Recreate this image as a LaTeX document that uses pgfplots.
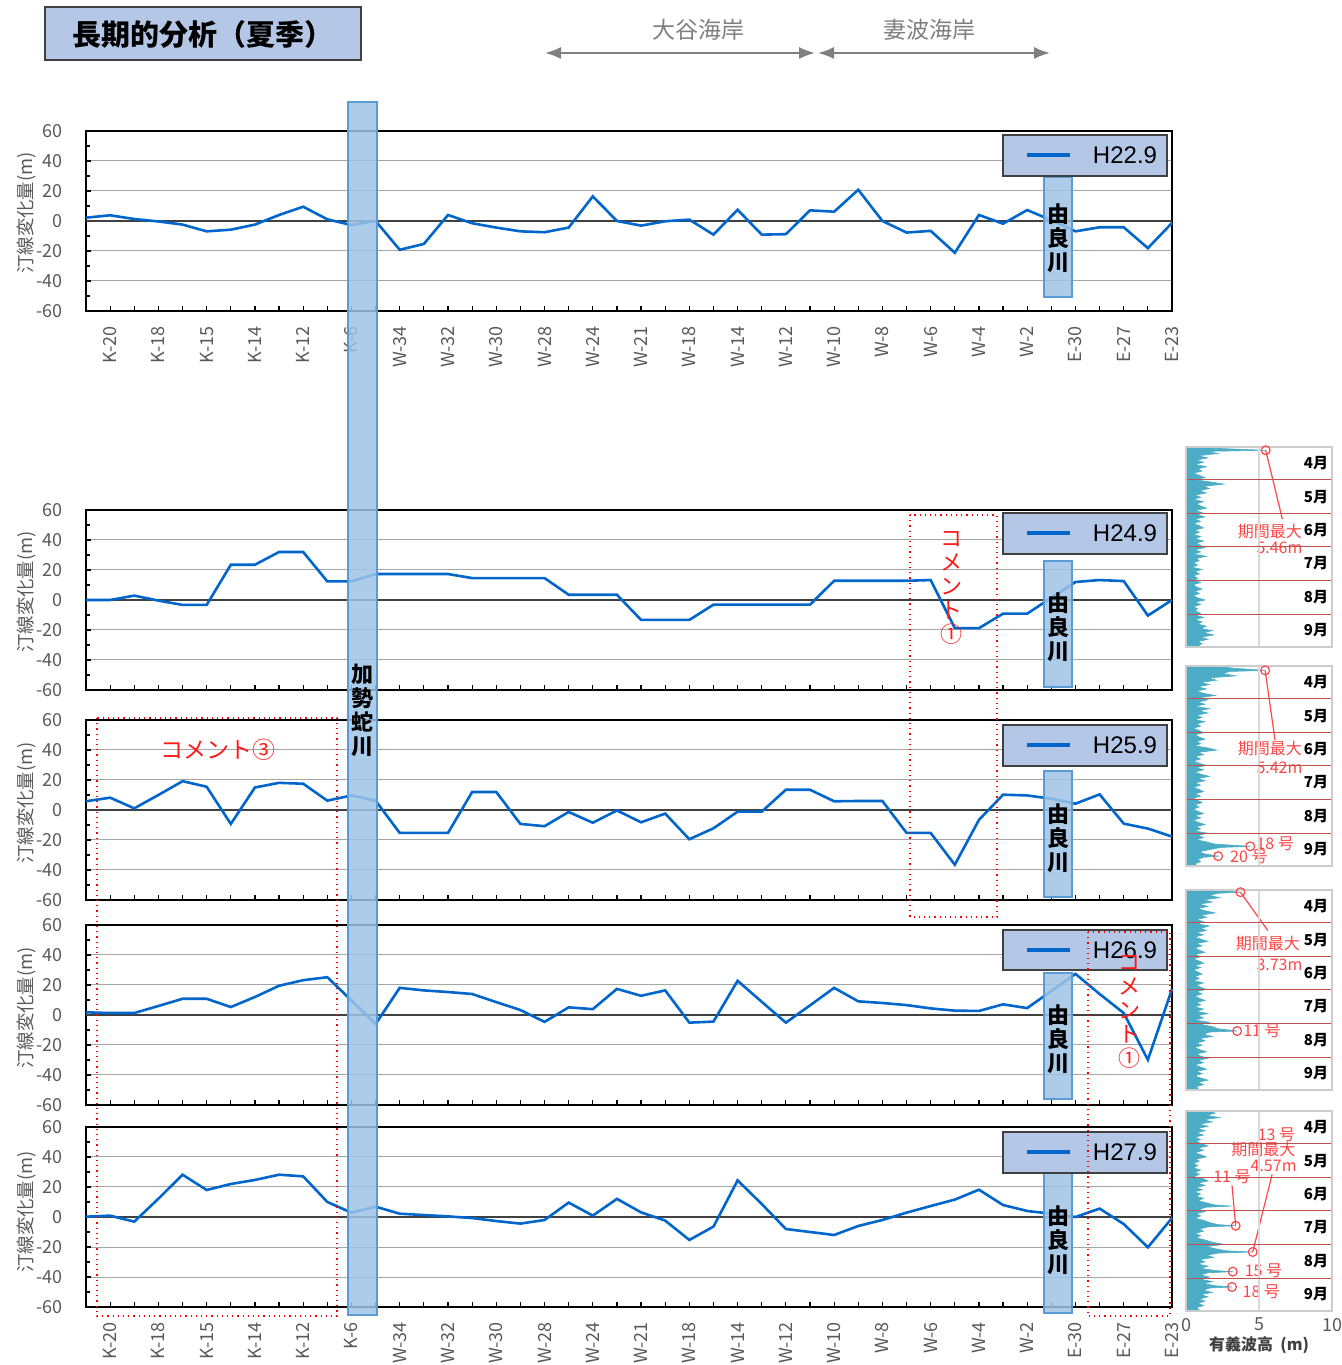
\documentclass[border=0pt]{standalone}
\usepackage{fontspec}
\setmainfont{Noto Sans CJK JP}
\newfontfamily\arialf{Liberation Sans}
\usepackage{pgfplots}
\pgfplotsset{compat=1.18}
\usepackage{pgfplotstable}
\usetikzlibrary{arrows.meta}

\definecolor{lineblue}{RGB}{0,102,204}
\definecolor{bandfill}{RGB}{157,195,230}
\definecolor{banddraw}{RGB}{91,155,213}
\definecolor{legfill}{RGB}{180,199,231}
\definecolor{tickgray}{RGB}{89,89,89}
\definecolor{gridgray}{RGB}{166,166,166}
\definecolor{wavecyan}{RGB}{75,172,198}
\definecolor{monthred}{RGB}{192,80,77}
\definecolor{annred}{RGB}{255,70,70}
\definecolor{hdrgray}{RGB}{127,127,127}

\pgfplotstableread{
i h22 h24 h25 h26 h27
0 2.2 0 5.8 1.8 0.2
1 3.8 0 8.2 1.3 0.9
2 1.3 2.9 1.1 1.3 -3.1
3 -0.3 -0.4 10 6 12.2
4 -2.4 -3.3 19.2 10.8 28.2
5 -6.9 -3.3 15.5 10.8 18
6 -5.8 23.5 -9.3 5.3 22
7 -2.4 23.5 15 12 24.7
8 4.0 32 18.1 19.5 28.2
9 9.5 32 17.5 23.2 27.1
10 1.1 12.4 6.2 25.2 10
11 -2.7 12.4 9.7 9.7 2.9
12 0 17.3 6.2 -6 6.9
13 -19.2 17.3 -15.3 18.1 2.2
14 -15.3 17.3 -15.3 16.4 1.3
15 4.0 17.3 -15.3 15.3 0.4
16 -1.5 14.6 12 14 -0.7
17 -4.4 14.6 12 8.6 -2.7
18 -6.9 14.6 -9.3 3.3 -4.4
19 -7.5 14.6 -10.8 -4.6 -2
20 -4.4 3.5 -1.3 5.1 9.6
21 16.4 3.5 -8.5 3.9 0.9
22 0 3.5 -0.3 17.4 12.1
23 -3.1 -13.3 -8.2 12.8 3.1
24 -0.2 -13.3 -2.4 16.4 -2.4
25 0.9 -13.3 -19.5 -5.1 -15.3
26 -9.1 -3.1 -12.2 -4.4 -6.4
27 7.5 -3.1 -1.1 22.8 24.4
28 -9.1 -3.1 -1.1 8.8 8.7
29 -8.8 -3.1 13.5 -5.1 -8
30 7.1 -3.1 13.5 6.4 -10
31 6.2 12.8 5.8 18.1 -12
32 20.8 12.8 6 9.1 -6
33 0 12.8 6 8 -2
34 -7.7 12.8 -15.3 6.6 2.9
35 -6.6 13.3 -15.3 4.4 7.3
36 -21.2 -18.8 -36.5 2.9 11.6
37 4.0 -18.8 -6.6 2.7 18.2
38 -1.8 -9.1 10.2 7.1 8
39 7.3 -9.1 9.7 4.6 4
40 0.5 1.5 7.5 16 2.2
41 -6.9 12 4.2 27.4 0
42 -4.2 13.3 10.4 14 5.6
43 -4.2 12.6 -9.1 1.3 -4.7
44 -18.1 -10.4 -12.4 -29.9 -20.2
45 -1.3 0 -17.7 17.3 -0.7
}\shore

\pgfplotstableread{
d v
0 0
0 1.0
1 1.6
3 5.46
4 1.4
6 2.2
8 0.8
10 1.5
12 0.7
14 1.2
16 0.6
18 1.4
20 0.8
22 1.1
24 0.5
26 0.9
28 1.3
30 0.6
32 1.7
34 2.6
36 1.2
38 1.6
40 0.9
42 1.4
44 0.6
46 1.0
48 0.5
50 1.2
52 0.7
54 1.0
56 1.4
58 0.6
60 1.1
62 0.8
64 1.3
66 0.6
68 1.0
70 0.5
72 0.9
74 1.2
76 0.6
78 0.9
80 0.5
82 1.0
84 0.6
86 1.2
88 0.7
90 1.0
92 1.3
94 0.6
96 1.0
98 0.5
100 1.4
102 0.7
104 0.9
106 0.5
108 0.8
110 0.4
112 1.1
114 0.6
116 0.9
118 0.5
120 0.8
122 0.6
124 1.0
126 0.5
128 0.7
130 1.1
132 0.6
134 0.9
136 0.5
138 0.8
140 1.3
142 0.6
144 1.0
146 0.5
148 0.8
150 0.6
152 1.0
154 0.7
156 1.2
158 0.6
160 1.1
162 0.8
164 1.4
166 1.0
168 1.8
170 1.2
172 1.9
174 1.0
176 1.5
178 0.8
180 1.1
183 0.7
183 0
}\waveA

\pgfplotstableread{
d v
0 0
0 2.2
2 3.2
4 5.42
5 3.0
7 2.5
9 3.4
11 1.5
13 2.1
15 1.0
17 1.6
19 0.8
21 1.4
23 0.7
25 1.2
27 2.0
29 0.9
31 1.5
33 0.8
35 1.3
37 0.6
39 1.6
41 0.9
43 1.5
45 0.7
47 1.1
49 0.6
51 1.3
53 0.7
55 1.0
57 0.5
59 0.9
61 1.2
63 0.6
65 0.9
67 1.3
69 0.7
71 1.0
73 0.6
75 1.5
77 2.1
79 0.8
81 1.2
83 0.6
85 1.0
87 0.5
89 0.9
91 1.4
93 0.7
95 1.2
97 0.6
99 1.0
101 1.6
103 0.8
105 1.3
107 0.6
109 1.0
111 0.5
113 0.9
115 1.2
117 0.6
119 1.0
121 0.5
123 0.8
125 1.1
127 0.6
129 0.9
131 0.5
133 0.8
135 1.2
137 0.6
139 1.0
141 0.5
143 0.8
145 1.3
147 0.7
149 1.0
151 0.6
153 1.5
155 0.8
157 1.2
159 0.7
161 1.4
163 2.0
165 4.4
166 2.4
168 1.6
170 0.9
172 1.3
174 2.2
175 1.2
177 0.8
179 1.0
181 0.6
183 0.8
183 0
}\waveB

\pgfplotstableread{
d v
0 0
0 1.8
2 3.73
3 2.2
5 1.6
7 2.3
9 1.2
11 1.8
13 0.9
15 1.5
17 0.8
19 1.3
21 2.0
23 1.0
25 1.4
27 0.7
29 1.2
31 0.8
33 1.6
35 1.0
37 1.4
39 0.7
41 1.2
43 0.6
45 1.0
47 1.5
49 0.7
51 1.1
53 0.6
55 0.9
57 1.3
59 0.6
61 1.0
63 0.5
65 0.9
67 1.2
69 0.6
71 1.0
73 0.5
75 0.8
77 1.1
79 0.6
81 0.9
83 0.5
85 1.2
87 0.7
89 1.0
91 1.4
93 0.7
95 1.1
97 0.6
99 0.9
101 1.3
103 0.7
105 1.0
107 0.6
109 1.2
111 0.7
113 1.5
115 0.8
117 1.2
119 0.6
121 1.6
123 1.0
125 1.8
127 2.2
129 3.5
130 1.6
132 1.2
134 1.8
136 0.9
138 1.3
140 0.7
142 1.1
144 0.6
146 0.9
148 1.4
150 0.7
152 1.0
154 1.5
156 0.8
158 1.2
160 0.6
162 1.0
164 1.4
166 0.7
168 1.1
170 0.6
172 1.0
174 1.5
176 0.8
178 1.2
180 0.7
183 0.9
183 0
}\waveC

\pgfplotstableread{
d v
0 0
0 1.6
2 2.0
4 1.4
6 2.3
8 1.2
10 1.8
12 0.9
14 1.5
16 0.8
18 1.3
20 0.7
22 1.2
24 0.6
26 1.0
28 0.7
30 1.1
32 1.5
34 0.8
36 1.2
38 0.6
40 1.0
42 1.4
44 0.7
46 0.9
48 0.5
50 0.8
52 0.5
54 1.0
56 0.6
58 0.9
60 0.5
62 1.2
64 1.5
66 0.8
68 1.3
70 0.7
72 1.1
74 0.6
76 1.0
78 0.7
80 1.2
82 0.8
84 1.4
86 2.0
87 3.1
88 1.4
90 0.9
92 1.3
94 0.7
96 1.0
98 0.6
100 1.2
102 1.6
104 2.2
105 3.4
106 1.5
108 0.9
110 1.2
112 0.6
114 1.0
116 0.7
118 1.3
120 1.8
122 2.6
124 1.4
126 2.0
128 2.8
129 4.57
130 2.2
132 1.4
134 1.9
136 0.9
138 1.3
140 0.8
142 1.5
144 1.0
146 2.0
147 3.2
148 1.5
150 1.0
152 1.6
154 1.0
156 1.8
158 1.2
160 2.1
161 3.15
162 1.6
164 1.2
166 1.8
168 1.0
170 1.5
172 0.9
174 1.3
176 0.8
178 1.2
180 0.7
183 1.0
183 0
}\waveD

\pgfplotsset{
  panel/.style={
    scale only axis, width=543pt, height=90pt,
    at={(43pt,{682.5pt-#1*0.5pt})}, anchor=south west,
    xmin=0, xmax=45, ymin=-60, ymax=60,
    xtick={0,...,45}, xticklabels={},
    ytick={-60,-40,...,60}, minor ytick={-50,-30,...,50},
    tick align=inside, xtick pos=bottom, ytick pos=left,
    major tick length=2.5pt, minor tick length=2pt,
    tick style={black, line width=0.6pt},
    ymajorgrids, grid style={gridgray, line width=0.5pt},
    axis line style={black, line width=0.8pt},
    yticklabel style={font=\fontsize{9}{10}\selectfont, text=tickgray, xshift=-8pt},
    xticklabel style={font=\fontsize{9}{10}\selectfont, text=tickgray, rotate=90, anchor=east},
    xticklabel shift=4pt,
    /pgf/number format/assume math mode=true,
    clip=false,
  },
  xlabs/.style={xticklabels={,K-20,,K-18,,K-15,,K-14,,K-12,,K-6,,W-34,,W-32,,W-30,,W-28,,W-24,,W-21,,W-18,,W-14,,W-12,,W-10,,W-8,,W-6,,W-4,,W-2,,E-30,,E-27,,E-23}},
  series/.style={lineblue, line width=1.3pt},
  wave/.style={
    scale only axis, width=73pt, height=100pt,
    at={(593pt,{682.5pt-#1*0.5pt})}, anchor=south west,
    xmin=0, xmax=10, ymin=-183, ymax=0,
    xtick={5}, xticklabels={}, xmajorgrids,
    ytick={-183,-153,-122,-91,-61,-30}, yticklabels={}, ymajorgrids,
    major tick length=0pt,
    x grid style={gray!30, line width=0.6pt},
    y grid style={monthred, line width=0.6pt},
    axis line style={gray!40, line width=0.6pt},
    axis on top, clip=false,
  },
  wavefill/.style={draw=wavecyan, fill=wavecyan, line width=0.3pt},
  anncirc/.style={only marks, mark=o, mark size=2.2pt, annred, mark options={line width=0.6pt}},
}

\tikzset{
  mon/.style={font=\bfseries\fontsize{7.5}{8}\selectfont},
  ann/.style={text=annred, font=\fontsize{8}{9}\selectfont, inner sep=0pt},
  yl/.style={rotate=90, text=tickgray, font=\fontsize{9.2}{10}\selectfont},
  leg/.style={fill=legfill, draw=black!75, line width=0.8pt},
  band/.style={fill=bandfill, fill opacity=0.85, draw=banddraw, line width=0.6pt},
  bandtxt/.style={font=\bfseries\fontsize{11}{12}\selectfont, align=center, inner sep=0pt},
  redbox/.style={red, dotted, line width=0.6pt},
  redtxt/.style={text=red!90, font=\fontsize{11}{12}\selectfont, align=center, inner sep=0pt},
}
\newcommand\months{%
  \node[mon] at (axis cs:8.9,-15) {4月};
  \node[mon] at (axis cs:8.9,-45.5) {5月};
  \node[mon] at (axis cs:8.9,-76) {6月};
  \node[mon] at (axis cs:8.9,-106.5) {7月};
  \node[mon] at (axis cs:8.9,-137.5) {8月};
  \node[mon] at (axis cs:8.9,-168) {9月};
}

\begin{document}
\begin{tikzpicture}
\useasboundingbox (0,0) rectangle (670.5pt,682.5pt);

% ---------- panels ----------
\begin{axis}[panel=311, xlabs]
  \addplot[black!75, line width=1pt, forget plot] coordinates {(0,0) (45,0)};
  \addplot[series] table[x=i, y=h22] {\shore};
\end{axis}
\begin{axis}[panel=690]
  \addplot[black!75, line width=1pt, forget plot] coordinates {(0,0) (45,0)};
  \addplot[series] table[x=i, y=h24] {\shore};
\end{axis}
\begin{axis}[panel=900]
  \addplot[black!75, line width=1pt, forget plot] coordinates {(0,0) (45,0)};
  \addplot[series] table[x=i, y=h25] {\shore};
\end{axis}
\begin{axis}[panel=1105]
  \addplot[black!75, line width=1pt, forget plot] coordinates {(0,0) (45,0)};
  \addplot[series] table[x=i, y=h26] {\shore};
\end{axis}
\begin{axis}[panel=1307, xlabs]
  \addplot[black!75, line width=1pt, forget plot] coordinates {(0,0) (45,0)};
  \addplot[series] table[x=i, y=h27] {\shore};
\end{axis}

% ---------- wave height panels ----------
\begin{axis}[wave=647]
  \addplot[wavefill] table[x=v, y expr=-\thisrow{d}] {\waveA};
  \addplot[anncirc] coordinates {(5.46,-3)};
  \draw[annred, line width=0.6pt] (axis cs:5.46,-3) -- (axis cs:6.6,-66);
  \node[ann] at (axis cs:5.75,-77) {期間最大};
  \node[ann] at (axis cs:6.4,-92) {5.46m};
  \months
\end{axis}
\begin{axis}[wave=866]
  \addplot[wavefill] table[x=v, y expr=-\thisrow{d}] {\waveB};
  \addplot[anncirc] coordinates {(5.42,-4) (4.4,-165) (2.2,-174)};
  \draw[annred, line width=0.6pt] (axis cs:5.42,-4) -- (axis cs:6.1,-68);
  \node[ann] at (axis cs:5.75,-75) {期間最大};
  \node[ann] at (axis cs:6.4,-93) {5.42m};
  \node[ann, anchor=west] at (axis cs:4.8,-163) {18 号};
  \node[ann, anchor=west] at (axis cs:3.0,-175) {20 号};
  \months
\end{axis}
\begin{axis}[wave=1090]
  \addplot[wavefill] table[x=v, y expr=-\thisrow{d}] {\waveC};
  \addplot[anncirc] coordinates {(3.73,-2) (3.5,-129)};
  \draw[annred, line width=0.6pt] (axis cs:3.73,-2) -- (axis cs:5.6,-37);
  \node[ann] at (axis cs:5.6,-49) {期間最大};
  \node[ann] at (axis cs:6.4,-68) {3.73m};
  \node[ann, anchor=west] at (axis cs:3.9,-129) {11 号};
  \months
\end{axis}
\begin{axis}[wave=1311, xtick={0,5,10}, xticklabels={0,5,10},
    xticklabel style={font=\fontsize{9}{10}\selectfont, text=tickgray},
    xlabel={有義波高\ \ (m)},
    xlabel style={font=\bfseries\fontsize{8}{9}\selectfont, text=black!75, yshift=4pt}]
  \addplot[wavefill] table[x=v, y expr=-\thisrow{d}] {\waveD};
  \addplot[anncirc] coordinates {(3.4,-105) (4.57,-129) (3.2,-147) (3.15,-161)};
  \draw[annred, line width=0.6pt] (axis cs:3.15,-68) -- (axis cs:3.4,-105);
  \draw[annred, line width=0.6pt] (axis cs:5.9,-58) -- (axis cs:4.57,-129);
  \node[ann] at (axis cs:6.2,-22) {13 号};
  \node[ann] at (axis cs:5.3,-35) {期間最大};
  \node[ann] at (axis cs:6.0,-50) {4.57m};
  \node[ann] at (axis cs:3.15,-60) {11 号};
  \node[ann, anchor=west] at (axis cs:4.0,-146) {15 号};
  \node[ann, anchor=west] at (axis cs:3.85,-165) {18 号};
  \months
\end{axis}

\begin{scope}[x=0.5pt, y=-0.5pt, yshift=682.5pt]
% y labels
\foreach \yy in {213,592,803,1008,1212}{
  \node[yl] at (27,\yy) {汀線変化量(m)};
}

% ---------- river bands ----------
\draw[band] (348,102) rectangle (377,1315);
\node[bandtxt] at (362,710) {加\\勢\\蛇\\川};
\foreach \ya/\yb/\yc in {177/297/238, 561/687/627, 771/897/838, 973/1099/1039, 1173/1313/1240}{
  \draw[band] (1044,\ya) rectangle (1072,\yb);
  \node[bandtxt] at (1058,\yc) {由\\良\\川};
}

% ---------- legends ----------
\foreach \ya/\yb/\lab in {135/176/H22.9, 513/554/H24.9, 725/766/H25.9, 930/970/H26.9, 1132/1173/H27.9}{
  \draw[leg] (1003,\ya) rectangle (1167,\yb);
  \draw[lineblue, line width=2pt] (1027,{(\ya+\yb)/2}) -- (1070,{(\ya+\yb)/2});
  \node[font=\arialf\fontsize{12}{13}\selectfont, inner sep=0pt] at (1125,{(\ya+\yb)/2}) {\lab};
}

% ---------- red comment boxes ----------
\draw[redbox] (910,515) rectangle (997,917);
\node[redtxt] at (951,588) {コ\\メ\\ン\\ト\\①};
\draw[redbox] (97,718) rectangle (337,1316);
\node[redtxt, font=\fontsize{11.5}{12}\selectfont] at (218,750) {コメント③};
\draw[redbox] (1088,932) rectangle (1170,1316);
\node[redtxt] at (1129,1012) {コ\\メ\\ン\\ト\\①};

% ---------- header ----------
\draw[fill=legfill, draw=black!75, line width=0.8pt] (45,7) rectangle (361,60);
\node[font=\bfseries\fontsize{14.5}{15}\selectfont] at (203,34) {長期的分析（夏季）};
\draw[hdrgray, line width=0.9pt, {Latex[length=8pt,width=6pt]}-{Latex[length=8pt,width=6pt]}] (545,53) -- (815,53);
\draw[hdrgray, line width=0.9pt, {Latex[length=8pt,width=6pt]}-{Latex[length=8pt,width=6pt]}] (818,53) -- (1050,53);
\node[text=hdrgray, font=\fontsize{11.5}{12}\selectfont] at (698,30) {大谷海岸};
\node[text=hdrgray, font=\fontsize{11.5}{12}\selectfont] at (929,30) {妻波海岸};
\end{scope}
\end{tikzpicture}
\end{document}
